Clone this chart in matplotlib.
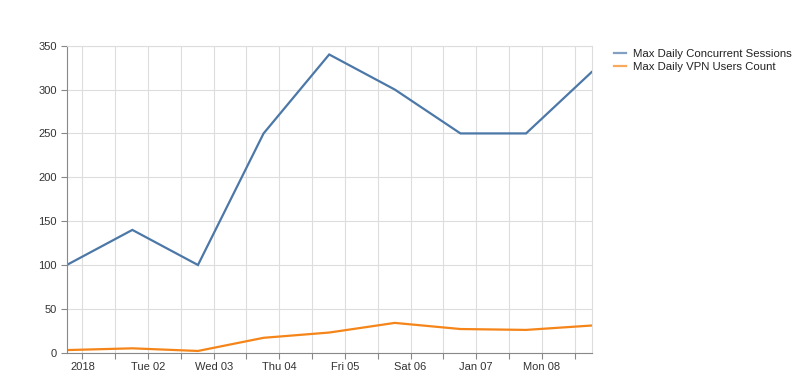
import pandas as pd
import numpy as np
import matplotlib
matplotlib.use("Agg")
import matplotlib.pyplot as plt
import matplotlib.dates as mdates

# values
timestamps = ["2017-12-31 18:15", "2018-01-01 18:15", "2018-01-02 18:15",
              "2018-01-03 18:15", "2018-01-04 18:15", "2018-01-05 18:15",
              "2018-01-06 18:15", "2018-01-07 18:15", "2018-01-08 18:15"]
sessions = [100, 140, 100, 250, 340, 300, 250, 250, 320]
vpn_users = [3, 5, 2, 17, 23, 34, 27, 26, 31]
tick_days = ["2018-01-01", "2018-01-02", "2018-01-03", "2018-01-04",
             "2018-01-05", "2018-01-06", "2018-01-07", "2018-01-08"]
tick_labels = ["2018", "Tue 02", "Wed 03", "Thu 04", "Fri 05", "Sat 06", "Jan 07", "Mon 08"]
series_names = ["Max Daily Concurrent Sessions", "Max Daily VPN Users Count"]

plt.rcParams['font.family'] = ['Liberation Sans', 'DejaVu Sans']

dates = pd.to_datetime(timestamps)
days = pd.to_datetime(tick_days)
half_days = pd.date_range("2018-01-01", "2018-01-08 12:00", freq="12h")

fig = plt.figure(figsize=(8, 3.9), dpi=100)
ax = fig.add_axes([0.0834, 0.0956, 0.6562, 0.7872])

blue = '#4c78a8'
orange = '#f58518'
ax.plot(dates, sessions, color=blue, lw=1.6, label=series_names[0], solid_joinstyle='miter')
ax.plot(dates, vpn_users, color=orange, lw=1.6, label=series_names[1], solid_joinstyle='miter')

ax.set_xlim(dates[0], dates[-1])
ax.set_ylim(0, 350)
ax.set_yticks(np.arange(0, 351, 50))

# 12h ticks/grid, labels on day boundaries only
ax.set_xticks(half_days)
ax.set_xticklabels([tick_labels[list(days).index(d)] if d in list(days) else "" for d in half_days])

ax.grid(True, color='#dddddd', lw=0.8)
ax.set_axisbelow(True)

for side in ['top', 'right']:
    ax.spines[side].set_color('#dddddd')
    ax.spines[side].set_linewidth(0.8)
for side in ['left', 'bottom']:
    ax.spines[side].set_color('#888888')
    ax.spines[side].set_linewidth(0.8)

ax.tick_params(axis='both', length=4, width=0.8, color='#888888', labelsize=8, labelcolor='#333333', pad=3)

leg = fig.legend(loc='upper left', bbox_to_anchor=(0.762, 0.887), frameon=False,
                 fontsize=8.2, handlelength=1.0, handletextpad=0.65, labelspacing=0.3,
                 borderaxespad=0)
for line in leg.get_lines():
    line.set_linewidth(1.6)
    line.set_alpha(0.7)
for txt in leg.get_texts():
    txt.set_color('#222222')

fig.savefig("out.png", dpi=100)
